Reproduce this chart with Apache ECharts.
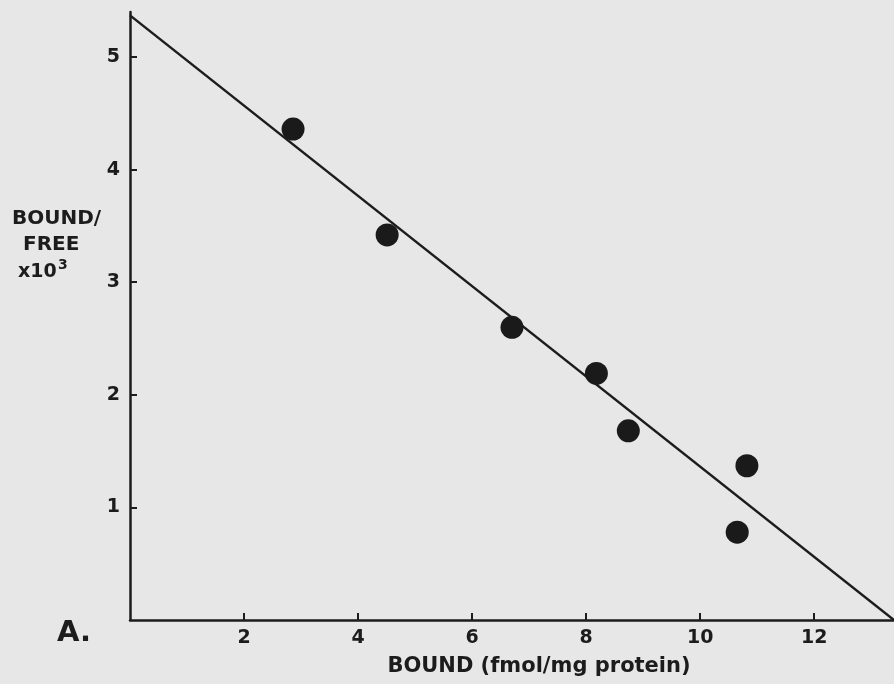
<!DOCTYPE html>
<html>
<head>
<meta charset="utf-8">
<script src="https://cdn.jsdelivr.net/npm/echarts@6/dist/echarts.min.js"></script>
<style>
html,body{margin:0;padding:0;background:#e7e7e7;}
#scatchart{width:894px;height:684px;}
</style>
</head>
<body>
<div id="scatchart"></div>
<script>
// Scatchard plot, bound vs bound/free
var boundValues=[2.86, 4.51, 6.70, 8.18, 8.74, 10.82, 10.65];
var ratioValues=[4.36, 3.42, 2.60, 2.19, 1.68, 1.37, 0.78];
var fitLineX=[0, 13.4];
var fitLineY=[5.37, 0];
var xTicks=[2, 4, 6, 8, 10, 12];
var yTicks=[1, 2, 3, 4, 5];

var inkColor='#1c1c1c';
var fontFam='"DejaVu Sans", Arial, sans-serif';

var pointData=[];
for(var i=0;i<boundValues.length;i++){
	pointData.push([boundValues[i], ratioValues[i]]);
}
var lineData=[];
for(var j=0;j<fitLineX.length;j++){
	lineData.push([fitLineX[j], fitLineY[j]]);
}

var chart=echarts.init(document.getElementById('scatchart'));
var option={
	backgroundColor:'#e7e7e7',
	animation:false,
	grid:{left:130, right:0, top:12, bottom:64},
	xAxis:{
		type:'value',
		min:0, max:13.4,
		name:'BOUND (fmol/mg protein)',
		nameLocation:'middle',
		nameGap:36,
		nameTextStyle:{color:inkColor, fontSize:21, fontWeight:'bold', fontFamily:fontFam, padding:[0,0,0,54]},
		splitLine:{show:false},
		axisLine:{lineStyle:{color:inkColor, width:2.5}},
		axisTick:{inside:true, length:7, lineStyle:{color:inkColor, width:2},
			customValues:xTicks},
		axisLabel:{color:inkColor, fontSize:19, fontWeight:'bold', fontFamily:fontFam, margin:9,
			customValues:xTicks}
	},
	yAxis:{
		type:'value',
		min:0, max:5.4,
		splitLine:{show:false},
		axisLine:{show:true, lineStyle:{color:inkColor, width:2.5}},
		axisTick:{show:true, inside:true, length:7, lineStyle:{color:inkColor, width:2},
			customValues:yTicks},
		axisLabel:{color:inkColor, fontSize:19, fontWeight:'bold', fontFamily:fontFam, margin:10,
			customValues:yTicks}
	},
	graphic:[
		{type:'text', left:57, top:619, style:{text:'A.', fill:inkColor, fontSize:29, fontWeight:'bold', fontFamily:fontFam}},
		{type:'text', left:12, top:209, style:{text:'BOUND/', fill:inkColor, fontSize:20, fontWeight:'bold', fontFamily:fontFam}},
		{type:'text', left:23, top:235, style:{text:'FREE', fill:inkColor, fontSize:20, fontWeight:'bold', fontFamily:fontFam}},
		{type:'text', left:18, top:263, style:{text:'x10', fill:inkColor, fontSize:19, fontWeight:'bold', fontFamily:fontFam}},
		{type:'text', left:58, top:258, style:{text:'3', fill:inkColor, fontSize:14, fontWeight:'bold', fontFamily:fontFam}}
	],
	series:[
		{
			name:'fit',
			type:'line',
			data:lineData,
			symbol:'none',
			lineStyle:{color:inkColor, width:2.5},
			z:2
		},
		{
			name:'points',
			type:'scatter',
			data:pointData,
			symbolSize:23,
			itemStyle:{color:'#1a1a1a', opacity:1},
			z:3
		}
	]
};
chart.setOption(option);
</script>
</body>
</html>
